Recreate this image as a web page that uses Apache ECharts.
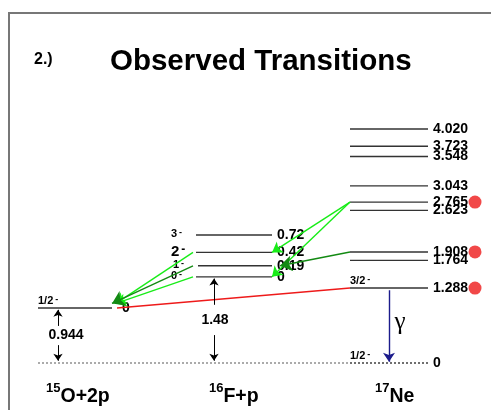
<!DOCTYPE html>
<html>
<head>
<meta charset="utf-8">
<script src="https://cdn.jsdelivr.net/npm/echarts@6/dist/echarts.min.js"></script>
<style>
html, body { margin: 0; padding: 0; background: #fff; }
#chart { width: 491px; height: 410px; }
</style>
</head>
<body>
<div id="chart"></div>
<script>
// energies in MeV, measured from the 17Ne ground state
var ne17Levels = [0, 1.288, 1.764, 1.908, 2.623, 2.765, 3.043, 3.548, 3.723, 4.020]
var ne17Labels = ['0', '1.288', '1.764', '1.908', '2.623', '2.765', '3.043', '3.548', '3.723', '4.020']
var ne17Spins = ['1/2', '3/2', '', '', '', '', '', '', '', '']
var observedLevels = [2.765, 1.908, 1.288]

var f16Threshold = 1.48 // 16F + p
var f16Levels = [0, 0.19, 0.42, 0.72]
var f16Labels = ['0', '0.19', '0.42', '0.72']
var f16Spins = ['0', '1', '2', '3']

var o15Threshold = 0.944 // 15O + 2p
var o15Label = '0'
var o15Spin = '1/2'

// 17Ne level -> 16F level (excitation), [from, to, kind]
var ne17ToF16 = [[2.765, 0.42, 'bright'], [2.765, 0, 'bright'], [1.908, 0.19, 'dark']]
// 16F level -> 15O+2p
var f16ToO15 = [[0.42, 'bright'], [0.19, 'dark'], [0, 'bright']]
// 17Ne level -> 15O+2p directly
var ne17ToO15 = [1.288]

var groupNames = [['15', 'O+2p'], ['16', 'F+p'], ['17', 'Ne']]

// ---- layout (x in pixels, y in MeV) ----
var FONT = '"Liberation Sans", Arial, Helvetica, sans-serif'
var col = { o15: [38, 112], f16: [196, 272], ne17: [350, 428] }
var f16SpinSize = [11, 11, 15, 11]
var colors = { bright: '#18ec18', dark: '#138a13', red: '#ee1a1a', navy: '#1c1c8c', level: '#333' }

var levelRows = []
ne17Levels.forEach(function (e, i) {
  levelRows.push({ x1: col.ne17[0], x2: col.ne17[1], e: e, text: ne17Labels[i], spinTop: ne17Spins[i], dotted: e === 0 })
})
f16Levels.forEach(function (e, i) {
  levelRows.push({ x1: col.f16[0] + (i === 1 ? 2 : 0), x2: col.f16[1], e: f16Threshold + e, text: f16Labels[i], spinLeft: f16Spins[i], spinSize: f16SpinSize[i] })
})
levelRows.push({ x1: col.o15[0], x2: col.o15[1], e: o15Threshold, text: o15Label, spinTop: o15Spin, textGap: 10 })
// common zero line
levelRows.push({ x1: col.o15[0], x2: col.ne17[0], e: 0, dotted: true, color: '#888' })

function sup(size) {
  return {
    n: { font: 'bold ' + size + 'px ' + FONT, fill: '#000' },
    s: { font: 'bold ' + Math.round(size * 0.8) + 'px ' + FONT, fill: '#000', verticalAlign: 'top', padding: [0, 0, 0, 2] }
  }
}

function renderLevel(params, api) {
  var r = levelRows[params.dataIndex]
  var a = api.coord([r.x1, r.e])
  var b = api.coord([r.x2, r.e])
  var kids = [{
    type: 'line',
    shape: { x1: a[0], y1: a[1], x2: b[0], y2: b[1] },
    style: { stroke: r.color || colors.level, lineWidth: 1.4, lineDash: r.dotted ? [2, 2] : null }
  }]
  if (r.text) {
    kids.push({ type: 'text', x: b[0] + (r.textGap || 5), y: a[1],
      style: { text: r.text, font: 'bold 14px ' + FONT, fill: '#000', align: 'left', verticalAlign: 'middle' } })
  }
  if (r.spinTop) {
    kids.push({ type: 'text', x: a[0], y: a[1] - 2,
      style: { text: '{n|' + r.spinTop + '}{s|-}', rich: sup(11), align: 'left', verticalAlign: 'bottom' } })
  }
  if (r.spinLeft) {
    kids.push({ type: 'text', x: a[0] - 25, y: a[1] - 1,
      style: { text: '{n|' + r.spinLeft + '}{s|-}', rich: sup(r.spinSize), align: 'left', verticalAlign: 'middle' } })
  }
  return { type: 'group', children: kids }
}

// transitions
function arrowData(kind) {
  var out = []
  ne17ToF16.forEach(function (t) {
    if (t[2] !== kind) return
    out.push({ coords: [[col.ne17[0], t[0]], [col.f16[1] + (kind === 'dark' ? 8 : 0), f16Threshold + t[1]]] })
  })
  f16ToO15.forEach(function (t) {
    if (t[1] !== kind) return
    out.push({ coords: [[col.f16[0] - 3, f16Threshold + t[0]], [col.o15[1] + (kind === 'dark' ? 0 : 4), o15Threshold + 0.08]] })
  })
  return out
}
var redData = ne17ToO15.map(function (e) {
  return { coords: [[col.ne17[0], e], [col.o15[1] + 5, o15Threshold]] }
})

// measurement arrows with a gap for the label
var gaps = [
  { x: 58, top: o15Threshold, gap: 0.165, label: '0.944', lx: 66 },
  { x: 214, top: f16Threshold, gap: 0.26, label: '1.48', lx: 215 }
]
var measureData = []
gaps.forEach(function (g) {
  var mid = g.top / 2
  measureData.push({ coords: [[g.x, mid + g.gap], [g.x, g.top - 0.03]] })
  measureData.push({ coords: [[g.x, mid - g.gap], [g.x, 0.04]] })
})

var annot = []
gaps.forEach(function (g) {
  annot.push({ x: g.lx, e: g.top / 2, text: g.label, font: 'bold 14px ' + FONT, align: 'center' })
})
annot.push({ x: 400, e: 0.70, text: 'γ', font: '25px "Liberation Serif", "DejaVu Serif", serif', align: 'center' })
var nameX = [46, 209, 375]
groupNames.forEach(function (n, i) {
  annot.push({ x: nameX[i], e: -0.57, text: '{s|' + n[0] + '}{b|' + n[1] + '}', align: 'left',
    rich: {
      s: { font: 'bold 13px ' + FONT, fill: '#000', verticalAlign: 'top' },
      b: { font: 'bold 19.5px ' + FONT, fill: '#000', lineHeight: 28 }
    } })
})

var chart = echarts.init(document.getElementById('chart'))
chart.setOption({
  animation: false,
  grid: { left: 0, right: 0, top: 106.92, bottom: 0.44 },
  xAxis: { type: 'value', min: 0, max: 491, show: false },
  yAxis: { type: 'value', min: -0.8, max: 4.4, show: false },
  graphic: [
    { type: 'rect', shape: { x: 9, y: 13, width: 600, height: 600 }, style: { fill: 'none', stroke: '#777', lineWidth: 2 }, z: 100 },
    { type: 'text', x: 34, y: 60, style: { text: '2.)', font: 'bold 16px ' + FONT, fill: '#000', verticalAlign: 'middle' } },
    { type: 'text', x: 110, y: 62, style: { text: 'Observed Transitions', font: 'bold 29.5px ' + FONT, fill: '#000', verticalAlign: 'middle' } }
  ],
  series: [
    {
      type: 'custom', name: 'levels', renderItem: renderLevel, silent: true,
      data: levelRows.map(function (r) { return [r.x1, r.e] })
    },
    {
      type: 'lines', coordinateSystem: 'cartesian2d', silent: true, z: 3,
      symbol: ['none', 'arrow'], symbolSize: [1, 10],
      lineStyle: { color: colors.bright, width: 1.4, opacity: 1 },
      data: arrowData('bright')
    },
    {
      type: 'lines', coordinateSystem: 'cartesian2d', silent: true, z: 4,
      symbol: ['none', 'arrow'], symbolSize: [1, 12],
      lineStyle: { color: colors.dark, width: 1.4, opacity: 1 },
      data: arrowData('dark')
    },
    {
      type: 'lines', coordinateSystem: 'cartesian2d', silent: true, z: 2,
      symbol: ['none', 'none'],
      lineStyle: { color: colors.red, width: 1.4, opacity: 1 },
      data: redData
    },
    {
      type: 'lines', coordinateSystem: 'cartesian2d', silent: true,
      symbol: ['none', 'arrow'], symbolSize: [1, 9],
      lineStyle: { color: colors.navy, width: 1.4, opacity: 1 },
      data: [{ coords: [[389, ne17Levels[1] - 0.04], [389, ne17Levels[0] + 0.02]] }]
    },
    {
      type: 'lines', coordinateSystem: 'cartesian2d', silent: true,
      symbol: ['none', 'arrow'], symbolSize: [1, 7],
      lineStyle: { color: '#000', width: 1, opacity: 1 },
      data: measureData
    },
    {
      type: 'scatter', silent: true, symbolSize: 13,
      itemStyle: { color: colors.red },
      data: observedLevels.map(function (e) { return [475, e] })
    },
    {
      type: 'custom', name: 'annotations', silent: true,
      data: annot.map(function (a) { return [a.x, a.e] }),
      renderItem: function (params, api) {
        var a = annot[params.dataIndex]
        var p = api.coord([a.x, a.e])
        return { type: 'text', x: p[0], y: p[1],
          style: { text: a.text, font: a.font, rich: a.rich, fill: '#000', align: a.align, verticalAlign: 'middle' } }
      }
    }
  ]
})
</script>
</body>
</html>
